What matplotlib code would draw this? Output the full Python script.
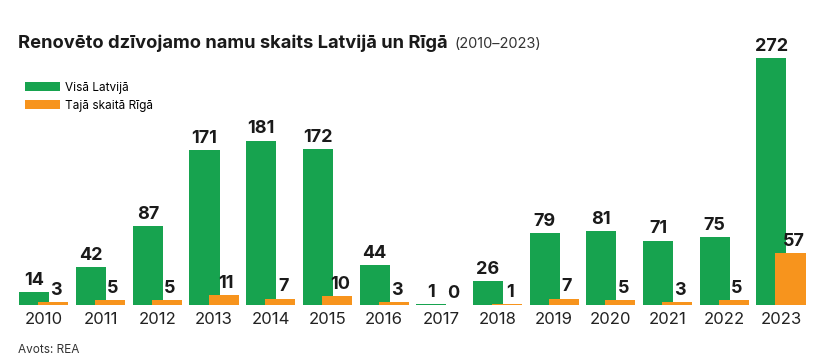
import matplotlib
matplotlib.use("Agg")
import matplotlib.pyplot as plt
import numpy as np

years = ["2010", "2011", "2012", "2013", "2014", "2015", "2016", "2017", "2018", "2019", "2020", "2021", "2022", "2023"]
latvia = [14, 42, 87, 171, 181, 172, 44, 1, 26, 79, 81, 71, 75, 272]
riga = [3, 5, 5, 11, 7, 10, 3, 0, 1, 7, 5, 3, 5, 57]

GREEN = "#17a34f"
ORANGE = "#f7941d"
FONT = ["Inter", "DejaVu Sans"]
plt.rcParams["font.family"] = FONT

fig = plt.figure(figsize=(8.2, 3.58), dpi=100)
ax = fig.add_axes([0.019, 0.148, 0.968, 0.761])
x = np.arange(len(years))
off = 0.168
w = 0.53
ax.bar(x - off, latvia, width=w, color=GREEN, zorder=2, label="Visā Latvijā")
ax.bar(x + off, riga, width=w, color=ORANGE, zorder=3, label="Tajā skaitā Rīgā")
for i in range(len(years)):
    ax.text(x[i] - off, latvia[i] + 3.5, str(latvia[i]), ha="center", va="bottom",
            fontsize=13, fontweight="bold", color="#1a1a1a")
    ax.text(x[i] + off + 0.05, riga[i] + 3.5, str(riga[i]), ha="center", va="bottom",
            fontsize=13, fontweight="bold", color="#1a1a1a")
ax.set_xlim(-0.5, len(years) - 0.5)
ax.set_ylim(0, 300)
ax.set_xticks(x)
ax.set_xticklabels(years, fontsize=12, color="#222222")
ax.tick_params(axis="x", length=0, pad=5)
ax.set_yticks([])
for s in ax.spines.values():
    s.set_visible(False)

t = fig.text(0.022, 0.878, "Renovēto dzīvojamo namu skaits Latvijā un Rīgā", fontsize=13.2,
             fontweight="bold", color="#1a1a1a", va="center")
fig.canvas.draw()
bb = t.get_window_extent().transformed(fig.transFigure.inverted())
fig.text(bb.x1 + 0.008, 0.878, "(2010–2023)", fontsize=10.5, color="#333333", va="center")
leg = fig.legend(loc="upper left", bbox_to_anchor=(0.03, 0.772), frameon=False,
                 fontsize=8.5, handlelength=3.0, handleheight=0.8, labelspacing=0.5,
                 handletextpad=0.45, borderpad=0, borderaxespad=0)
fig.text(0.022, 0.005, "Avots: REA", fontsize=8.5, color="#333333", va="bottom")
fig.savefig("out.png", dpi=100)
